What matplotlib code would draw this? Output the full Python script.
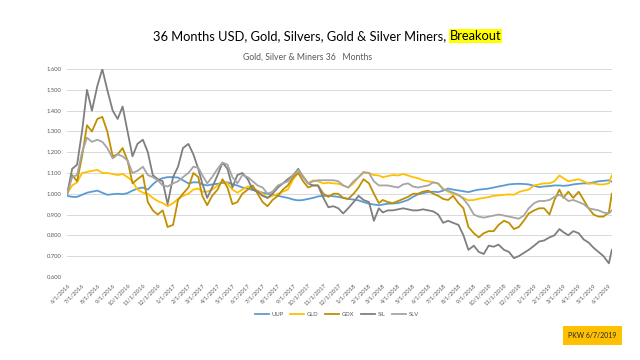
import pandas as pd
import matplotlib
matplotlib.use("Agg")
import matplotlib.pyplot as plt
from matplotlib.ticker import FixedLocator, FuncFormatter

plt.rcParams['font.family'] = ['Lato', 'DejaVu Sans']

# dates: 1st, 11th, 21st of each month, 6/1/2016 .. 6/1/2019, plus 6/7/2019
dates = [pd.Timestamp(2016 + (5 + m) // 12, (5 + m) % 12 + 1, d)
         for m in range(37) for d in (1, 11, 21)][:109]
dates.append(pd.Timestamp(2019, 6, 7))

month_ticks = [pd.Timestamp(2016 + (5 + m) // 12, (5 + m) % 12 + 1, 1) for m in range(37)]
tick_labels = [f"{t.month}/1/{t.year}" for t in month_ticks]

uup = [0.99, 0.985, 0.985, 0.995, 1.005, 1.01, 1.015, 1.005, 0.995, 0.998,
       1.0, 0.998, 1.003, 1.015, 1.025, 1.03, 1.02, 1.045, 1.065, 1.075,
       1.08, 1.08, 1.078, 1.065, 1.05, 1.055, 1.055, 1.045, 1.04, 1.045,
       1.048, 1.052, 1.055, 1.045, 1.04, 1.03, 1.025, 1.018, 1.013, 1.005,
       1.0, 0.995, 0.99, 0.985, 0.98, 0.972, 0.968, 0.97, 0.975, 0.98,
       0.987, 0.99, 0.99, 0.988, 0.985, 0.98, 0.975, 0.972, 0.968, 0.96,
       0.952, 0.948, 0.945, 0.948, 0.952, 0.953, 0.955, 0.962, 0.97, 0.985,
       0.997, 1.003, 1.008, 1.01, 1.008, 1.015, 1.025, 1.02, 1.016, 1.012,
       1.008, 1.015, 1.02, 1.022, 1.025, 1.03, 1.035, 1.04, 1.045, 1.047,
       1.048, 1.047, 1.045, 1.038, 1.032, 1.035, 1.037, 1.04, 1.04, 1.038,
       1.04, 1.045, 1.048, 1.05, 1.05, 1.055, 1.06, 1.062, 1.065, 1.058]

gld = [1.0, 1.04, 1.055, 1.10, 1.105, 1.11, 1.115, 1.10, 1.10, 1.095,
       1.09, 1.095, 1.08, 1.06, 1.02, 1.005, 1.0, 0.98, 0.965, 0.955,
       0.94, 0.955, 0.975, 0.99, 1.0, 1.02, 1.025, 1.01, 1.01, 1.02,
       1.04, 1.06, 1.05, 1.02, 1.005, 1.02, 1.035, 1.03, 1.015, 1.0,
       0.98, 0.99, 1.0, 1.01, 1.02, 1.07, 1.10, 1.085, 1.05, 1.065,
       1.06, 1.05, 1.053, 1.05, 1.048, 1.04, 1.03, 1.05, 1.08, 1.10,
       1.10, 1.09, 1.088, 1.08, 1.085, 1.09, 1.088, 1.095, 1.088, 1.08,
       1.075, 1.065, 1.06, 1.055, 1.048, 1.025, 1.01, 1.0, 0.992, 0.98,
       0.968, 0.97, 0.976, 0.98, 0.984, 0.99, 0.992, 0.995, 0.997, 0.995,
       1.008, 1.015, 1.02, 1.04, 1.045, 1.05, 1.05, 1.06, 1.088, 1.075,
       1.06, 1.065, 1.07, 1.06, 1.048, 1.05, 1.045, 1.045, 1.05, 1.088]

gdx = [1.0, 1.09, 1.06, 1.18, 1.33, 1.30, 1.36, 1.37, 1.30, 1.18,
       1.19, 1.22, 1.16, 1.05, 1.07, 1.09, 0.96, 0.92, 0.90, 0.92,
       0.84, 0.85, 0.97, 1.0, 1.03, 1.10, 1.08, 0.99, 0.945, 0.99,
       1.02, 1.07, 1.03, 0.95, 0.96, 1.0, 1.02, 1.04, 1.0, 0.96,
       0.94, 0.97, 0.99, 1.02, 1.04, 1.08, 1.10, 1.06, 1.03, 1.04,
       1.04, 1.0, 0.985, 1.0, 1.0, 0.98, 0.975, 1.0, 1.03, 1.07,
       1.05, 1.0, 0.955, 0.97, 0.96, 0.955, 0.965, 0.975, 0.985, 1.0,
       1.0, 1.01, 1.015, 1.0, 0.99, 0.975, 0.97, 0.99, 0.955, 0.93,
       0.84, 0.81, 0.79, 0.81, 0.82, 0.82, 0.85, 0.87, 0.86, 0.83,
       0.84, 0.87, 0.905, 0.92, 0.93, 0.93, 0.90, 0.97, 1.02, 0.98,
       1.01, 0.98, 1.01, 0.97, 0.93, 0.90, 0.89, 0.89, 0.91, 1.0]

sil = [1.0, 1.12, 1.14, 1.30, 1.50, 1.40, 1.52, 1.60, 1.50, 1.40,
       1.36, 1.42, 1.30, 1.18, 1.24, 1.26, 1.20, 1.09, 1.07, 1.06,
       0.95, 1.08, 1.13, 1.22, 1.24, 1.19, 1.12, 1.05, 0.98, 1.03,
       1.09, 1.15, 1.12, 1.03, 1.09, 1.10, 1.07, 1.02, 1.01, 0.99,
       0.98, 1.0, 1.03, 1.05, 1.07, 1.09, 1.12, 1.08, 1.05, 1.04,
       1.04, 0.98, 0.935, 0.94, 0.93, 0.905, 0.93, 0.96, 0.99, 0.97,
       0.96, 0.87, 0.93, 0.91, 0.92, 0.92, 0.925, 0.93, 0.925, 0.92,
       0.92, 0.925, 0.92, 0.915, 0.90, 0.86, 0.87, 0.86, 0.85, 0.80,
       0.73, 0.75, 0.72, 0.71, 0.75, 0.745, 0.755, 0.73, 0.72, 0.69,
       0.70, 0.715, 0.73, 0.75, 0.77, 0.775, 0.79, 0.80, 0.83, 0.815,
       0.80, 0.82, 0.81, 0.78, 0.765, 0.74, 0.72, 0.70, 0.665, 0.73]

slv = [1.0, 1.08, 1.09, 1.20, 1.27, 1.25, 1.26, 1.25, 1.22, 1.17,
       1.19, 1.18, 1.16, 1.10, 1.11, 1.13, 1.09, 1.08, 1.065, 1.04,
       1.035, 1.05, 1.06, 1.08, 1.10, 1.13, 1.125, 1.09, 1.05, 1.08,
       1.12, 1.15, 1.14, 1.08, 1.05, 1.09, 1.08, 1.06, 1.04, 1.03,
       1.0, 1.01, 1.04, 1.05, 1.06, 1.09, 1.115, 1.08, 1.05, 1.06,
       1.065, 1.065, 1.065, 1.065, 1.06, 1.04, 1.03, 1.06, 1.08, 1.105,
       1.10, 1.06, 1.04, 1.04, 1.04, 1.035, 1.03, 1.045, 1.05, 1.035,
       1.03, 1.035, 1.04, 1.055, 1.05, 1.02, 1.015, 1.005, 0.995, 0.975,
       0.945, 0.90, 0.89, 0.885, 0.89, 0.895, 0.90, 0.895, 0.89, 0.885,
       0.88, 0.895, 0.93, 0.955, 0.965, 0.965, 0.97, 0.985, 0.995, 0.985,
       0.965, 0.97, 0.96, 0.95, 0.93, 0.925, 0.92, 0.91, 0.905, 0.92]

names = ['UUP', 'GLD', 'GDX', 'SIL', 'SLV']
colors = ['#5B9BD5', '#FFC000', '#BF9000', '#7F7F7F', '#A5A5A5']

fig = plt.figure(figsize=(6.4, 3.6), dpi=100)
ax = fig.add_axes([0.105, 0.231, 0.851, 0.577])

for name, vals, c in zip(names, [uup, gld, gdx, sil, slv], colors):
    ax.plot(dates, vals, color=c, lw=1.3, label=name)

ax.set_ylim(0.6, 1.6)
ax.set_xlim(month_ticks[0], dates[-1])
ax.yaxis.set_major_locator(FixedLocator([0.6 + 0.1 * i for i in range(11)]))
ax.yaxis.set_major_formatter(FuncFormatter(lambda v, p: f"{v:.3f}"))
ax.grid(axis='y', color='#D9D9D9', lw=0.7)
ax.set_axisbelow(True)
ax.set_xticks(month_ticks)
ax.set_xticklabels(tick_labels, rotation=45, ha='right', rotation_mode='anchor')
ax.tick_params(axis='both', length=0, labelsize=4.2, colors='#595959', pad=4)
for s in ax.spines.values():
    s.set_visible(False)

ax.legend(loc='center', bbox_to_anchor=(0.495, -0.18), ncol=5, frameon=False,
          fontsize=4.2, handlelength=2.4, handletextpad=0.4, columnspacing=1.2,
          labelcolor='#595959')

# title with highlighted last word
fig.canvas.draw()
r = fig.canvas.get_renderer()
t1 = fig.text(0.5, 0.9, "36 Months USD, Gold, Silvers, Gold & Silver Miners, ",
              fontsize=9.3, color='black', ha='left', va='center')
t2 = fig.text(0.5, 0.9, "Breakout", fontsize=9.3, color='black', ha='left', va='center',
              bbox=dict(facecolor='#FFFF00', edgecolor='none', pad=0.6))
w1 = t1.get_window_extent(r).width
w2 = t2.get_window_extent(r).width
x0 = (0.511 * fig.bbox.width - (w1 + w2) / 2) / fig.bbox.width
t1.set_x(x0)
t2.set_x(x0 + w1 / fig.bbox.width)

fig.text(0.48, 0.84, "Gold, Silver & Miners 36   Months", fontsize=6.2, color='#595959',
         ha='center', va='center')

fig.text(0.926, 0.068, "PKW 6/7/2019", fontsize=5, color='#262626', ha='center', va='center',
         bbox=dict(facecolor='#FFC000', edgecolor='none', boxstyle='square,pad=0.8'))

fig.savefig("out.png", dpi=100)
